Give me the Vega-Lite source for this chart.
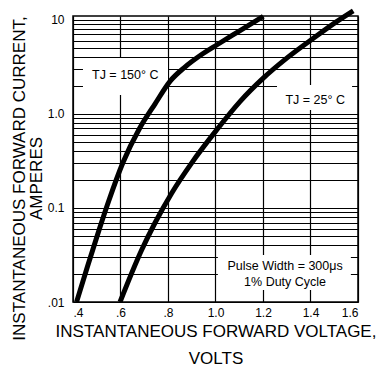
{
  "$schema": "https://vega.github.io/schema/vega-lite/v6.json",
  "width": 285,
  "height": 286,
  "autosize": "none",
  "padding": {"left": 73, "top": 16, "right": 25, "bottom": 68},
  "background": "white",
  "config": {
    "view": {"stroke": "black", "strokeWidth": 1.5},
    "font": "Liberation Sans"
  },
  "datasets": {
    "curves": [
      {"series": "150", "v": 0.415, "i": 0.01},
      {"series": "150", "v": 0.46, "i": 0.0234},
      {"series": "150", "v": 0.51, "i": 0.0587},
      {"series": "150", "v": 0.55, "i": 0.118},
      {"series": "150", "v": 0.61, "i": 0.303},
      {"series": "150", "v": 0.68, "i": 0.70},
      {"series": "150", "v": 0.745, "i": 1.274},
      {"series": "150", "v": 0.81, "i": 2.249},
      {"series": "150", "v": 0.87, "i": 3.133},
      {"series": "150", "v": 0.94, "i": 4.256},
      {"series": "150", "v": 1.01, "i": 5.508},
      {"series": "150", "v": 1.10, "i": 7.6},
      {"series": "150", "v": 1.201, "i": 10.9},
      {"series": "25", "v": 0.598, "i": 0.01},
      {"series": "25", "v": 0.689, "i": 0.0357},
      {"series": "25", "v": 0.745, "i": 0.0692},
      {"series": "25", "v": 0.816, "i": 0.1445},
      {"series": "25", "v": 0.9, "i": 0.302},
      {"series": "25", "v": 1.005, "i": 0.676},
      {"series": "25", "v": 1.103, "i": 1.352},
      {"series": "25", "v": 1.201, "i": 2.4},
      {"series": "25", "v": 1.3, "i": 3.92},
      {"series": "25", "v": 1.412, "i": 6.38},
      {"series": "25", "v": 1.51, "i": 9.59},
      {"series": "25", "v": 1.58, "i": 12.5}
    ],
    "boxes": [
      {"v": 0.442, "v2": 0.80, "i": 1.59, "i2": 3.94},
      {"v": 1.259, "v2": 1.575, "i": 1.10, "i2": 2.03},
      {"v": 1.01, "v2": 1.57, "i": 0.0134, "i2": 0.0316}
    ],
    "labels": [
      {"v": 0.62, "i": 2.6, "t": "TJ = 150° C"},
      {"v": 1.42, "i": 1.41, "t": "TJ = 25° C"},
      {"v": 1.293, "i": 0.024, "t": "Pulse Width = 300μs"},
      {"v": 1.293, "i": 0.0163, "t": "1% Duty Cycle"}
    ]
  },
  "layer": [
    {
      "data": {"name": "boxes"},
      "mark": {"type": "rect", "fill": "white", "stroke": null},
      "encoding": {
        "x": {
          "field": "v", "type": "quantitative",
          "scale": {"domain": [0.4, 1.6], "nice": false, "zero": false},
          "axis": {
            "values": [0.4, 0.6, 0.8, 1.0, 1.2, 1.4, 1.6],
            "labelExpr": "datum.value < 1 ? replace(format(datum.value, '.1f'), '0.', '.') : format(datum.value, '.1f')",
            "grid": true, "gridColor": "black", "gridOpacity": 1, "gridWidth": 1.2,
            "ticks": false, "domain": false,
            "labelFont": "Liberation Sans", "labelFontSize": 12, "labelColor": "black", "labelPadding": 5,
            "title": ["INSTANTANEOUS FORWARD VOLTAGE,", "VOLTS"],
            "titleFont": "Liberation Sans", "titleFontSize": 17, "titleFontWeight": "normal", "titleColor": "black",
            "titleLineHeight": 27, "titlePadding": 5
          }
        },
        "x2": {"field": "v2"},
        "y": {
          "field": "i", "type": "quantitative",
          "scale": {"type": "log", "domain": [0.01, 11], "nice": false},
          "axis": {
            "values": [0.01, 0.02, 0.03, 0.04, 0.05, 0.06, 0.07, 0.08, 0.09, 0.1, 0.2, 0.3, 0.4, 0.5, 0.6, 0.7, 0.8, 0.9, 1, 2, 3, 4, 5, 6, 7, 8, 9, 10],
            "labelExpr": "datum.value == 10 ? '10' : datum.value == 1 ? '1.0' : datum.value == 0.1 ? '0.1' : datum.value == 0.01 ? '.01' : ''",
            "grid": true, "gridColor": "black", "gridOpacity": 1, "gridWidth": 1.1,
            "ticks": false, "domain": false,
            "labelFont": "Liberation Sans", "labelFontSize": 12, "labelColor": "black", "labelPadding": 9,
            "title": ["INSTANTANEOUS FORWARD CURRENT,", "AMPERES"],
            "titleFont": "Liberation Sans", "titleFontSize": 17, "titleFontWeight": "normal", "titleColor": "black",
            "titleLineHeight": 17, "titlePadding": 2, "titleY": 162
          }
        },
        "y2": {"field": "i2"}
      }
    },
    {
      "data": {"name": "curves"},
      "mark": {"type": "line", "color": "black", "strokeWidth": 5, "interpolate": "monotone", "strokeCap": "butt"},
      "encoding": {
        "x": {"field": "v", "type": "quantitative"},
        "y": {"field": "i", "type": "quantitative"},
        "detail": {"field": "series"}
      }
    },
    {
      "data": {"name": "labels"},
      "mark": {"type": "text", "font": "Liberation Sans", "fontSize": 12.5, "color": "black", "align": "center", "baseline": "middle"},
      "encoding": {
        "x": {"field": "v", "type": "quantitative"},
        "y": {"field": "i", "type": "quantitative"},
        "text": {"field": "t"}
      }
    }
  ]
}
